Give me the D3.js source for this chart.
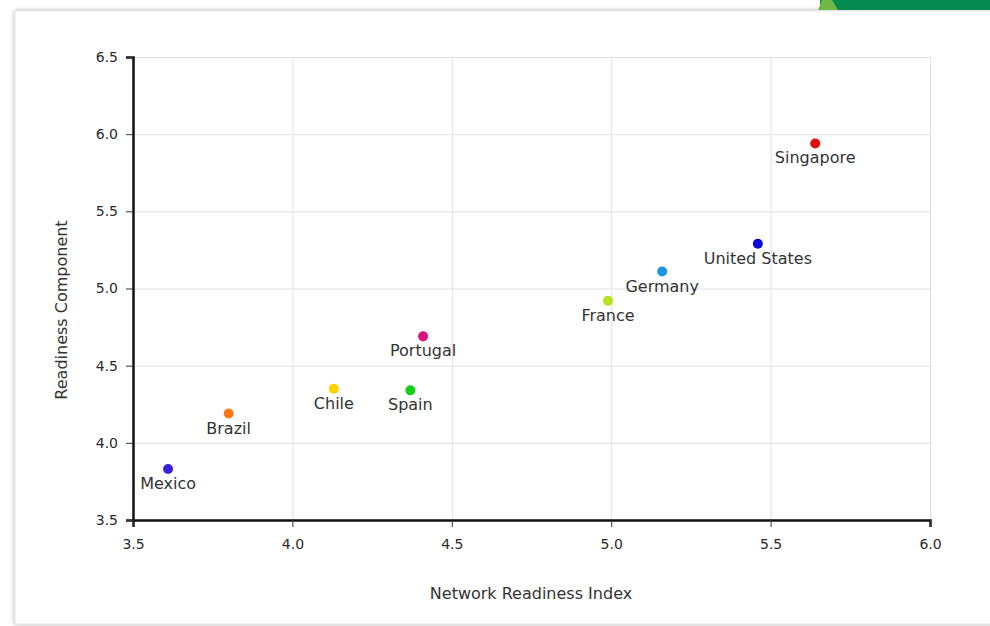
<!DOCTYPE html>
<html lang="en">
<head>
  <meta charset="UTF-8">
  <title>Network Readiness</title>
</head>
<style>
  body {
    margin: 0;
    width: 990px;
    height: 626px;
    background: #fff;
    overflow: hidden;
    font-family: "DejaVu Sans", Verdana, sans-serif;
  }
  svg {
    position: absolute;
    top: 0;
    left: 0;
  }
  .grid line {
    stroke: #e0e0e0;
    stroke-width: 1;
  }
  .grid path {
    display: none;
  }
  .axis path {
    stroke: #111;
    stroke-width: 2.5;
  }
  .axis line {
    stroke: #333;
  }
  .axis text {
    font-size: 14px;
    fill: #2a2a2a;
    font-family: "DejaVu Sans", sans-serif;
  }
  .label {
    font-size: 16px;
    fill: #333;
  }
  .title {
    font-size: 16px;
    fill: #333;
  }
</style>
<body>
<svg width="990" height="626"></svg>
<script src="https://cdn.jsdelivr.net/npm/d3@7/dist/d3.min.js"></script>
<script>
  const countries = ['Mexico', 'Brazil', 'Chile', 'Spain', 'Portugal', 'France', 'Germany', 'United States', 'Singapore'];
  const networkIndex = [3.61, 3.80, 4.13, 4.37, 4.41, 4.99, 5.16, 5.46, 5.64];
  const readinessComp = [3.83, 4.19, 4.35, 4.34, 4.69, 4.92, 5.11, 5.29, 5.94];
  const colors = ['#3b1fe0', '#ff7614', '#ffd000', '#17cf17', '#d4157f', '#b5e41c', '#1a96de', '#0a0ad8', '#e00d0d'];
  const xTicks = [3.5, 4.0, 4.5, 5.0, 5.5, 6.0];
  const yTicks = [3.5, 4.0, 4.5, 5.0, 5.5, 6.0, 6.5];

  const svg = d3.select('svg');

  // card background + shadow
  const defs = svg.append('defs');
  const f = defs.append('filter').attr('id', 'sh').attr('x', '-5%').attr('y', '-5%').attr('width', '110%').attr('height', '110%');
  f.append('feDropShadow').attr('dx', 0).attr('dy', 0).attr('stdDeviation', 2).attr('flood-color', '#000').attr('flood-opacity', 0.35);
  svg.append('rect')
    .attr('x', 15).attr('y', 11).attr('width', 1000).attr('height', 613)
    .style('fill', '#fff').style('stroke', '#e4e4e4').attr('filter', 'url(#sh)');

  // green corner band
  svg.append('rect').attr('x', 820).attr('y', 0).attr('width', 170).attr('height', 10).style('fill', '#058a52');
  svg.append('path').attr('d', 'M818,10 L822,0 L832,0 L838,10 Z').style('fill', '#6fb845');

  const x = d3.scaleLinear().domain([3.5, 6.0]).range([133, 930]);
  const y = d3.scaleLinear().domain([3.5, 6.5]).range([520, 57]);

  // grid
  svg.append('g').attr('class', 'grid')
    .attr('transform', 'translate(0,520)')
    .call(d3.axisBottom(x).tickValues(xTicks).tickSize(-463).tickFormat(''));
  svg.append('g').attr('class', 'grid')
    .attr('transform', 'translate(133,0)')
    .call(d3.axisLeft(y).tickValues(yTicks).tickSize(-797).tickFormat(''));

  // axes
  svg.append('g').attr('class', 'axis')
    .attr('transform', 'translate(0,520)')
    .call(d3.axisBottom(x).tickValues(xTicks).tickSize(7).tickSizeOuter(7).tickPadding(12).tickFormat(d3.format('.1f')));
  svg.append('g').attr('class', 'axis')
    .attr('transform', 'translate(133,0)')
    .call(d3.axisLeft(y).tickValues(yTicks).tickSize(7).tickSizeOuter(7).tickPadding(8).tickFormat(d3.format('.1f')));

  // axis titles
  svg.append('text').attr('class', 'title')
    .attr('x', 531).attr('y', 599).attr('text-anchor', 'middle')
    .text('Network Readiness Index');
  svg.append('text').attr('class', 'title')
    .attr('transform', 'translate(67,310) rotate(-90)').attr('text-anchor', 'middle')
    .text('Readiness Component');

  const data = countries.map((c, i) => ({name: c, x: networkIndex[i], y: readinessComp[i], color: colors[i]}));

  const pts = svg.append('g').selectAll('g').data(data).enter().append('g');
  pts.append('circle')
    .attr('cx', d => x(d.x))
    .attr('cy', d => y(d.y))
    .attr('r', 5)
    .style('fill', d => d.color);
  pts.append('text').attr('class', 'label')
    .attr('x', d => x(d.x))
    .attr('y', d => y(d.y) + 20)
    .attr('text-anchor', 'middle')
    .text(d => d.name);
</script>
</body>
</html>
